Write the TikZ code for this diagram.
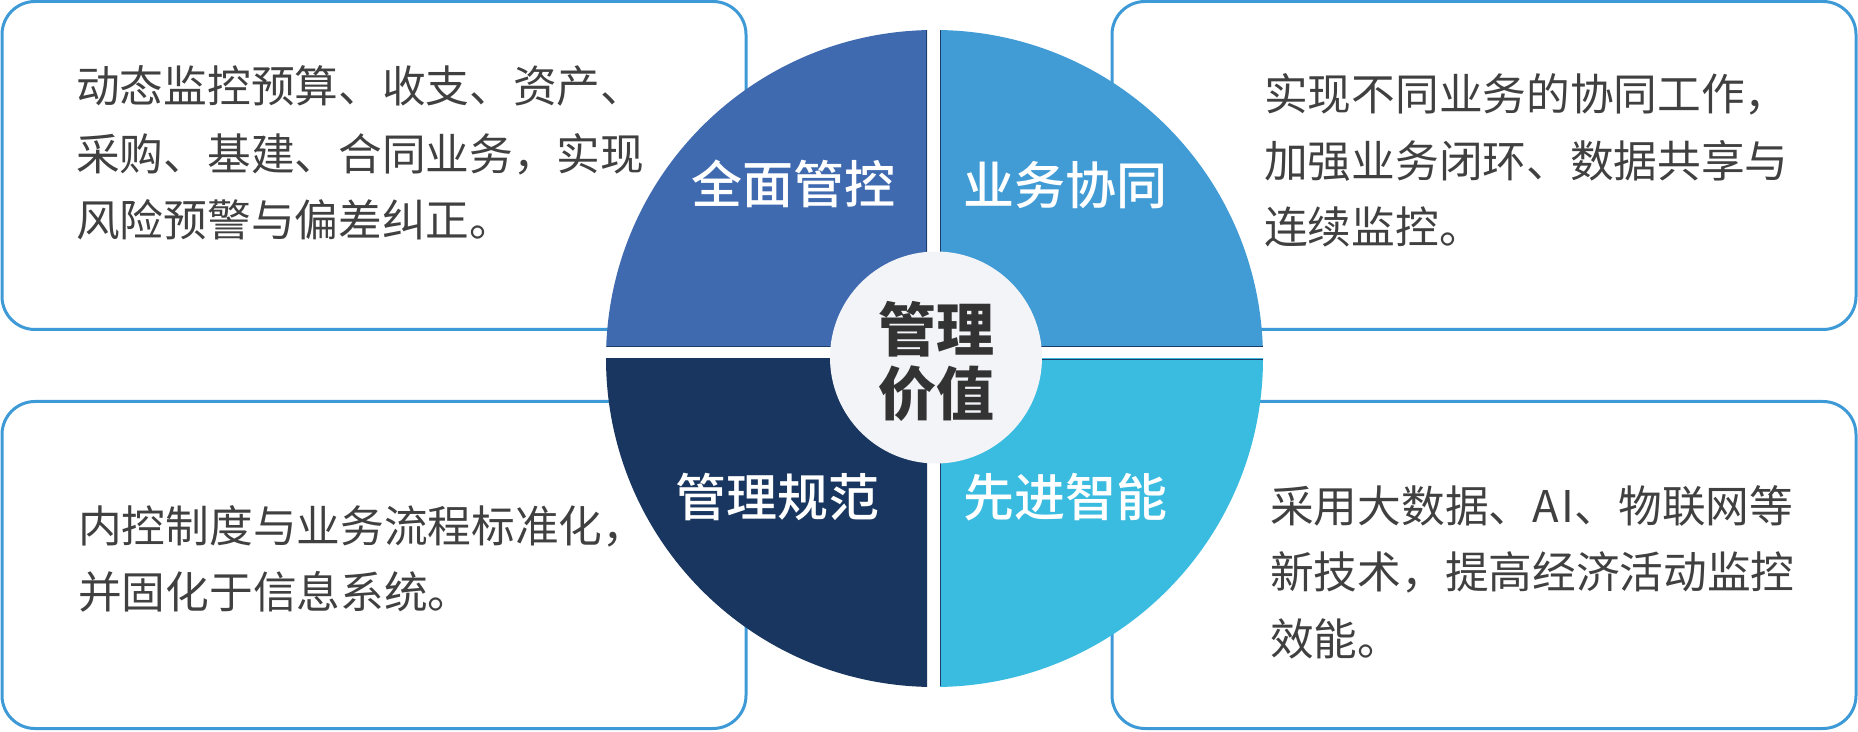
\documentclass[tikz,border=0pt]{standalone}
\usepackage{fontspec}
\setmainfont{Noto Sans CJK SC}
\newfontfamily\labelfont{Noto Sans CJK SC}[UprightFont={* Medium}]
\definecolor{boxline}{HTML}{3E9AD6}
\definecolor{bodygray}{HTML}{404040}
\definecolor{qtl}{HTML}{3F6AB0}
\definecolor{qtr}{HTML}{419BD5}
\definecolor{qbl}{HTML}{18365F}
\definecolor{qbr}{HTML}{3ABBE0}
\definecolor{qedge}{HTML}{1E3C6A}
\definecolor{hub}{HTML}{F3F4F8}
\definecolor{hubtext}{HTML}{333333}
\tikzset{
  infobox/.style={draw=boxline, line width=3pt, fill=white, rounded corners=33pt},
  bodyline/.style={font=\fontsize{43.7}{66}\selectfont, text=bodygray, inner sep=0pt, anchor=base west},
  qlabel/.style={font=\labelfont\fontsize{51}{60}\selectfont, text=white, inner sep=0pt, anchor=base},
  hubline/.style={font=\fontsize{58}{64}\selectfont\bfseries, text=hubtext, inner sep=0pt, anchor=base},
  edgeline/.style={draw=qedge, line width=1.2pt}
}
\begin{document}
\begin{tikzpicture}[x=1pt,y=1pt]
\useasboundingbox (0,0) rectangle (1858,731);
% info boxes
\draw[infobox] (2,401.5) rectangle (746,729.5);
\draw[infobox] (1112,401.5) rectangle (1856,729.5);
\draw[infobox] (2,2.5) rectangle (746,329.5);
\draw[infobox] (1112,2.5) rectangle (1856,329.5);
% pie quadrants
\coordinate (pc) at (934.5,372.5);
\begin{scope}
  \clip (590,384) rectangle (927,740);
  \fill[qtl] (pc) circle (328.5);
\end{scope}
\begin{scope}
  \clip (940,384) rectangle (1280,740);
  \fill[qtr] (pc) circle (328.5);
\end{scope}
\begin{scope}
  \clip (590,-10) rectangle (927,372);
  \fill[qbl] (pc) circle (328.5);
\end{scope}
\begin{scope}
  \clip (940,-10) rectangle (1280,372);
  \fill[qbr] (pc) circle (328.5);
\end{scope}
% thin dark straight edges
\draw[edgeline] (606.5,384.6) -- (926.4,384.6) -- (926.4,700.5);
\draw[edgeline] (940.6,700.5) -- (940.6,384.6) -- (1262.5,384.6);
\draw[edgeline] (940.6,44.5) -- (940.6,371.4) -- (1262.5,371.4);
% hub
\fill[hub] (936,373.5) circle (106);
\node[hubline] (hub1) at (936.5,379.5) {管理};
\node[hubline] (hub2) at (936.5,315.5) {价值};
% quadrant labels
\node[qlabel] (ltl) at (793,527) {全面管控};
\node[qlabel] (ltr) at (1065.5,526) {业务协同};
\node[qlabel] (lbl) at (777.5,214.6) {管理规范};
\node[qlabel] (lbr) at (1065,214.6) {先进智能};
% body texts
\node[bodyline] (tl1) at (76,628.2) {动态监控预算、收支、资产、};
\node[bodyline] (tl2) at (76,560.7) {采购、基建、合同业务，实现};
\node[bodyline] (tl3) at (76,494.2) {风险预警与偏差纠正。};
\node[bodyline] (tr1) at (1264,620.7) {实现不同业务的协同工作，};
\node[bodyline] (tr2) at (1264,553.7) {加强业务闭环、数据共享与};
\node[bodyline] (tr3) at (1264,487.2) {连续监控。};
\node[bodyline] (bl1) at (78,188.7) {内控制度与业务流程标准化，};
\node[bodyline] (bl2) at (78,122.2) {并固化于信息系统。};
\node[bodyline] (br1) at (1270,208.7) {采用大数据、A\kern3pt I、物联网等};
\node[bodyline] (br2) at (1270,142.2) {新技术，提高经济活动监控};
\node[bodyline] (br3) at (1270,75.7) {效能。};
\end{tikzpicture}
\end{document}
